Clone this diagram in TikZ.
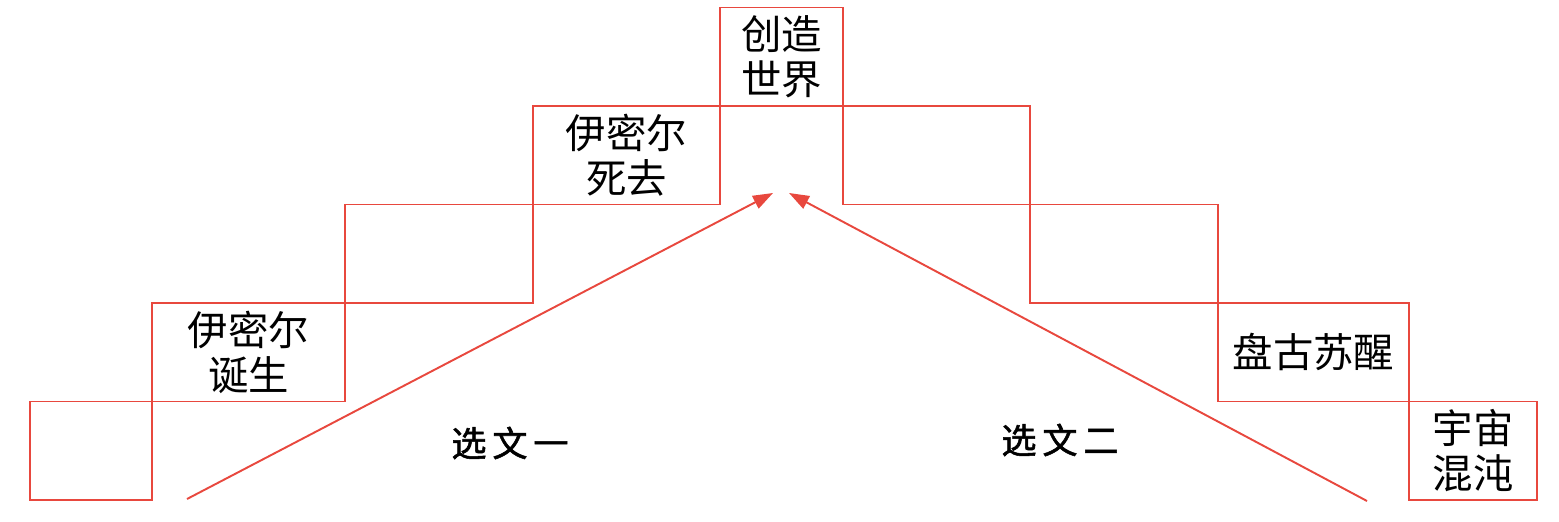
\documentclass[tikz,border=0pt]{standalone}
\usepackage{fontspec}
\newfontfamily\cjk{Noto Sans CJK SC}
\newfontfamily\cjkmid{Noto Sans CJK SC}[FakeBold=1.5]
\usepackage{xcolor}
\usepackage{tikz}
\usetikzlibrary{arrows.meta, positioning}
\definecolor{stairred}{RGB}{232,72,62}
\tikzset{
  stairbox/.style={rectangle, draw=stairred, line width=1.1pt, inner sep=0pt,
                   outer sep=0pt, align=center, minimum height=1.97cm,
                   font=\cjk\fontsize{23}{25.5}\selectfont},
  textlabel/.style={font=\cjkmid\fontsize{20}{24}\selectfont},
  uparr/.style={-{Triangle[length=0.4cm, width=0.28cm]}, draw=stairred,
                fill=stairred, line width=1.1pt}
}

\begin{document}
\begin{tikzpicture}[node distance=0pt and 0pt]
  \useasboundingbox (0,0) rectangle (31.18,-10.42);

  %% -- Left staircase --
  \node[stairbox, minimum width=2.44cm, anchor=south west] (b1) at (0.6,-10.0) {};
  \node[stairbox, minimum width=3.86cm, above right=of b1] (b2) {伊密尔\\诞生};
  \node[stairbox, minimum width=3.76cm, above right=of b2] (b3) {};
  \node[stairbox, minimum width=3.74cm, above right=of b3] (b4) {伊密尔\\死去};

  %% -- Top --
  \node[stairbox, minimum width=2.46cm, above right=of b4] (b5) {创造\\世界};

  %% -- Right staircase --
  \node[stairbox, minimum width=3.74cm, below right=of b5] (b6) {};
  \node[stairbox, minimum width=3.76cm, below right=of b6] (b7) {};
  \node[stairbox, minimum width=3.82cm, below right=of b7] (b8) {盘古苏醒};
  \node[stairbox, minimum width=2.56cm, below right=of b8] (b9) {宇宙\\混沌};

  %% -- Labels --
  \node[textlabel] (sel1) at (10.2,-8.86) {选\,文\,一};
  \node[textlabel] (sel2) at (21.2,-8.8) {选\,文\,二};

  %% -- Arrows --
  \coordinate (s1) at (3.74,-9.98);
  \coordinate (t1) at (15.46,-3.86);
  \coordinate (s2) at (27.34,-10.02);
  \coordinate (t2) at (15.78,-3.86);
  \draw[uparr] (s1) -- (t1);
  \draw[uparr] (s2) -- (t2);
\end{tikzpicture}
\end{document}
